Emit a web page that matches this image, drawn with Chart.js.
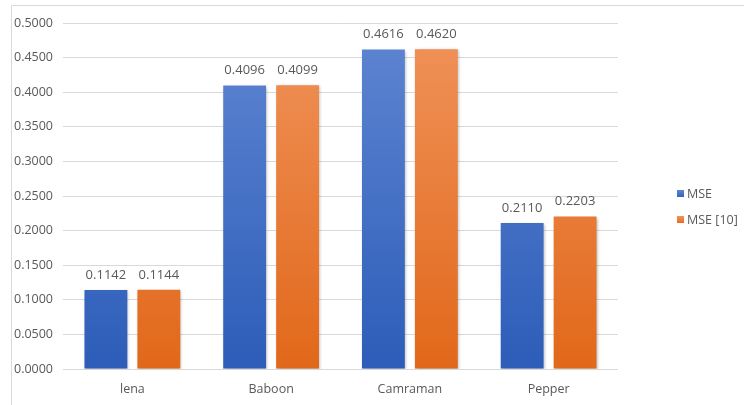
<!DOCTYPE html>
<html>
<head>
<meta charset="utf-8">
<script src="https://cdn.jsdelivr.net/npm/chart.js@4"></script>
<style>
  html, body { margin: 0; padding: 0; background: #ffffff; }
  #wrap { width: 744px; height: 405px; position: relative; }
</style>
</head>
<body>
<div id="wrap"><canvas id="c" width="744" height="405"></canvas></div>
<script>
const categories = ["lena", "Baboon", "Camraman", "Pepper"];
const seriesNames = ["MSE", "MSE [10]"];
const mseValues = [0.1142, 0.4096, 0.4616, 0.2110];
const mse10Values = [0.1144, 0.4099, 0.4620, 0.2203];
const yTicks = { min: 0, max: 0.5, step: 0.05 };

const FONT = "'Open Sans', 'Noto Sans', sans-serif";
const TEXT = "#595959";
const GRID = "#d9d9d9";

const gradients = {
  blue: ["#5f86d2", "#2d5db9"],
  orange: ["#f0935b", "#e1681a"]
};

function makeGrad(ctx, area, pair) {
  const g = ctx.createLinearGradient(0, area.top, 0, area.bottom);
  g.addColorStop(0, pair[0]);
  g.addColorStop(1, pair[1]);
  return g;
}

const gradFor = (key) => (context) => {
  const chart = context.chart;
  const area = chart.chartArea;
  if (!area) return gradients[key][0];
  return makeGrad(chart.ctx, area, gradients[key]);
};

const frame = {
  id: 'frame',
  beforeDraw(chart) {
    const ctx = chart.ctx;
    ctx.save();
    ctx.strokeStyle = GRID;
    ctx.lineWidth = 1;
    ctx.beginPath();
    ctx.moveTo(11.5, 405);
    ctx.lineTo(11.5, 5.5);
    ctx.lineTo(744, 5.5);
    ctx.stroke();
    ctx.restore();
  }
};

const shadow = {
  id: 'shadow',
  beforeDatasetsDraw(chart) {
    const ctx = chart.ctx;
    ctx.save();
    ctx.shadowColor = 'rgba(0,0,0,0.28)';
    ctx.shadowBlur = 3;
    ctx.shadowOffsetX = 1;
    ctx.shadowOffsetY = 1;
  },
  afterDatasetsDraw(chart) {
    chart.ctx.restore();
  }
};

const labelsPlugin = {
  id: 'barLabels',
  afterDatasetsDraw(chart) {
    const ctx = chart.ctx;
    ctx.save();
    ctx.font = "13px " + FONT;
    ctx.fillStyle = TEXT;
    ctx.textAlign = 'center';
    ctx.textBaseline = 'middle';
    chart.data.datasets.forEach((ds, di) => {
      const meta = chart.getDatasetMeta(di);
      meta.data.forEach((bar, i) => {
        ctx.fillText(ds.data[i].toFixed(4), bar.x, bar.y - 15);
      });
    });
    ctx.restore();
  }
};

const legendPlugin = {
  id: 'sideLegend',
  afterDraw(chart) {
    const ctx = chart.ctx;
    ctx.save();
    ctx.font = "12.5px " + FONT;
    ctx.textAlign = 'left';
    ctx.textBaseline = 'middle';
    const x = 677;
    let y = 194;
    chart.data.datasets.forEach((ds, di) => {
      const key = di === 0 ? 'blue' : 'orange';
      const g = ctx.createLinearGradient(0, y - 4, 0, y + 4);
      g.addColorStop(0, gradients[key][0]);
      g.addColorStop(1, gradients[key][1]);
      ctx.fillStyle = g;
      ctx.fillRect(x, y - 4, 7, 7);
      ctx.fillStyle = TEXT;
      ctx.fillText(ds.label, x + 10, y);
      y += 26;
    });
    ctx.restore();
  }
};

new Chart(document.getElementById('c'), {
  type: 'bar',
  data: {
    labels: categories,
    datasets: [
      { label: seriesNames[0], data: mseValues, backgroundColor: gradFor('blue') },
      { label: seriesNames[1], data: mse10Values, backgroundColor: gradFor('orange') }
    ]
  },
  options: {
    responsive: false,
    animation: false,
    devicePixelRatio: 1,
    layout: { padding: { left: 12, right: 126, top: 23, bottom: 3 } },
    categoryPercentage: 0.763,
    barPercentage: 0.81,
    plugins: {
      legend: { display: false },
      tooltip: { enabled: false }
    },
    scales: {
      x: {
        grid: { display: false },
        border: { display: false },
        ticks: { color: TEXT, font: { family: FONT, size: 12.5 }, padding: 5 }
      },
      y: {
        min: yTicks.min,
        max: yTicks.max,
        grid: { color: GRID, drawTicks: false },
        border: { display: false },
        afterFit(scale) { scale.width = 51; },
        ticks: {
          stepSize: yTicks.step,
          color: TEXT,
          font: { family: FONT, size: 12.5 },
          padding: 10,
          callback: (v) => Number(v).toFixed(4)
        }
      }
    }
  },
  plugins: [frame, shadow, labelsPlugin, legendPlugin]
});
</script>
</body>
</html>
